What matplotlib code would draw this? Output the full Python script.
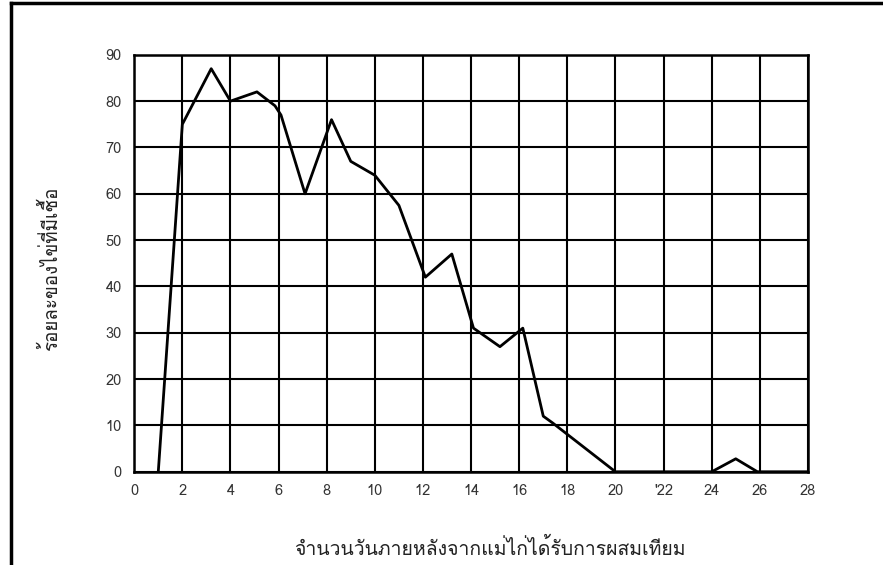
import matplotlib
matplotlib.use("Agg")
import matplotlib.pyplot as plt
from matplotlib import font_manager
from matplotlib.ft2font import FT2Font
from matplotlib.lines import Line2D

# ข้อมูล (อ่านจากรูป)
days = [1, 2, 3.2, 4, 5.1, 5.85, 6.1, 7.1, 8.2, 9, 10, 11, 12.1, 13.2, 14.1,
        15.2, 16.15, 17, 17.4, 20, 24, 25, 25.9, 28]
fertile_pct = [0, 75, 87, 80, 82, 79, 77, 60, 76, 67, 64, 57.5, 42, 47, 31,
               27, 31, 12, 10.5, 0, 0, 2.8, 0, 0]
x_ticks = list(range(0, 29, 2))
x_ticklabels = ["0", "2", "4", "6", "8", "10", "12", "14", "16", "18", "20",
                "'22", "24", "26", "28"]
y_ticks = list(range(0, 91, 10))

xlabel = "จำนวนวันภายหลังจากแม่ไก่ได้รับการผสมเทียม"
ylabel = "ร้อยละของไข่ที่มีเชื้อ"


def _thai_family():
    # หาฟอนต์ที่มีอักษรไทย
    for f in font_manager.fontManager.ttflist:
        try:
            cmap = FT2Font(f.fname).get_charmap()
        except Exception:
            continue
        if 0x0E08 in cmap and 0x0E33 in cmap:
            return f.name
    return "DejaVu Sans"


thai = _thai_family()
plt.rcParams["font.family"] = [thai, "DejaVu Sans"]

fig = plt.figure(figsize=(8.83, 5.65), dpi=100)
ax = fig.add_axes([0.152, 0.165, 0.763, 0.738])

ax.plot(days, fertile_pct, color="black", linewidth=2)

ax.set_xlim(0, 28)
ax.set_ylim(0, 90)
ax.set_xticks(x_ticks)
ax.set_xticklabels(x_ticklabels)
ax.set_yticks(y_ticks)
ax.grid(True, color="black", linewidth=1.5)
ax.tick_params(length=0, labelsize=10.5, labelcolor="#333333", pad=9)
for s in ax.spines.values():
    s.set_linewidth(1.8)

fig.text(0.555, 0.03, xlabel, ha="center", va="center", fontsize=14, color="#222222")
fig.text(0.057, 0.525, ylabel, ha="center", va="center", rotation=90,
         fontsize=13.5, color="#222222")

# กรอบของภาพสแกน
fig.add_artist(Line2D([11 / 883, 1], [1 - 3 / 565, 1 - 3 / 565],
                      transform=fig.transFigure, color="black", linewidth=2.5))
fig.add_artist(Line2D([11 / 883, 11 / 883], [0, 1 - 3 / 565],
                      transform=fig.transFigure, color="black", linewidth=2.5))

fig.savefig("out.png", dpi=100)
